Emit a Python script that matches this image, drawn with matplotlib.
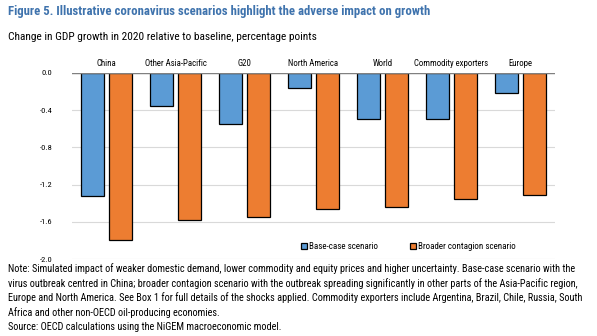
import numpy as np
import matplotlib.pyplot as plt
from matplotlib.transforms import blended_transform_factory

# data
regions = ["China", "Other Asia-Pacific", "G20", "North America", "World",
           "Commodity exporters", "Europe"]
base_case = [-1.32, -0.36, -0.55, -0.16, -0.49, -0.49, -0.22]
broader = [-1.80, -1.58, -1.55, -1.46, -1.44, -1.35, -1.31]
yticks = [0.0, -0.4, -0.8, -1.2, -1.6, -2.0]

blue = "#5B9BD5"
orange = "#ED7D31"
narrow = ["Roboto Condensed", "DejaVu Sans"]

fig = plt.figure(figsize=(5.97, 3.36), dpi=100)
ax = fig.add_axes([0.1206, 0.229, 0.809, 0.554])

x = np.arange(len(regions))
w = 0.33
ax.bar(x - 0.205, base_case, w, color=blue, edgecolor="black", linewidth=0.9,
       label="Base-case scenario", zorder=3)
ax.bar(x + 0.205, broader, w, color=orange, edgecolor="black", linewidth=0.9,
       label="Broader contagion scenario", zorder=3)

ax.set_xlim(-0.5, len(regions) - 0.5)
ax.set_ylim(-2.0, 0.0)
ax.set_yticks(yticks)
ax.set_yticklabels([f"{v:.1f}" for v in yticks], fontsize=6, family=narrow)
ax.tick_params(axis="y", length=0, pad=14)
ax.set_xticks([])
for s in ax.spines.values():
    s.set_visible(False)
ax.grid(axis="y", color="#D9D9D9", linewidth=0.8, zorder=0)
ax.axhline(0, color="#808080", linewidth=1.0, zorder=4)

trans = blended_transform_factory(ax.transData, ax.transAxes)
for i, name in enumerate(regions):
    ax.text(i, 1.05, name, transform=trans, ha="center", va="center",
            fontsize=6.3, family=narrow)

leg = ax.legend(loc="lower right", bbox_to_anchor=(0.935, 0.0), ncol=2,
                frameon=False, handlelength=0.7, handleheight=0.7,
                handletextpad=0.2, columnspacing=3.5,
                prop={"family": narrow, "size": 6.5})

fig.text(0.013, 0.965, "Figure 5. Illustrative coronavirus scenarios highlight the adverse impact on growth",
         fontsize=9.2, fontweight="bold", color="#3F73AD", family=narrow, va="center")
fig.text(0.013, 0.89, "Change in GDP growth in 2020 relative to baseline, percentage points",
         fontsize=8.2, color="black", family=narrow, va="center")

note = ("Note: Simulated impact of weaker domestic demand, lower commodity and equity prices and higher uncertainty. Base-case scenario with the\n"
        "virus outbreak centred in China; broader contagion scenario with the outbreak spreading significantly in other parts of the Asia-Pacific region,\n"
        "Europe and North America. See Box 1 for full details of the shocks applied. Commodity exporters include Argentina, Brazil, Chile, Russia, South\n"
        "Africa and other non-OECD oil-producing economies.\n"
        "Source: OECD calculations using the NiGEM macroeconomic model.")
fig.text(0.013, 0.218, note, fontsize=7.4, family=narrow, va="top", linespacing=1.45)

fig.savefig("out.png", dpi=100)
